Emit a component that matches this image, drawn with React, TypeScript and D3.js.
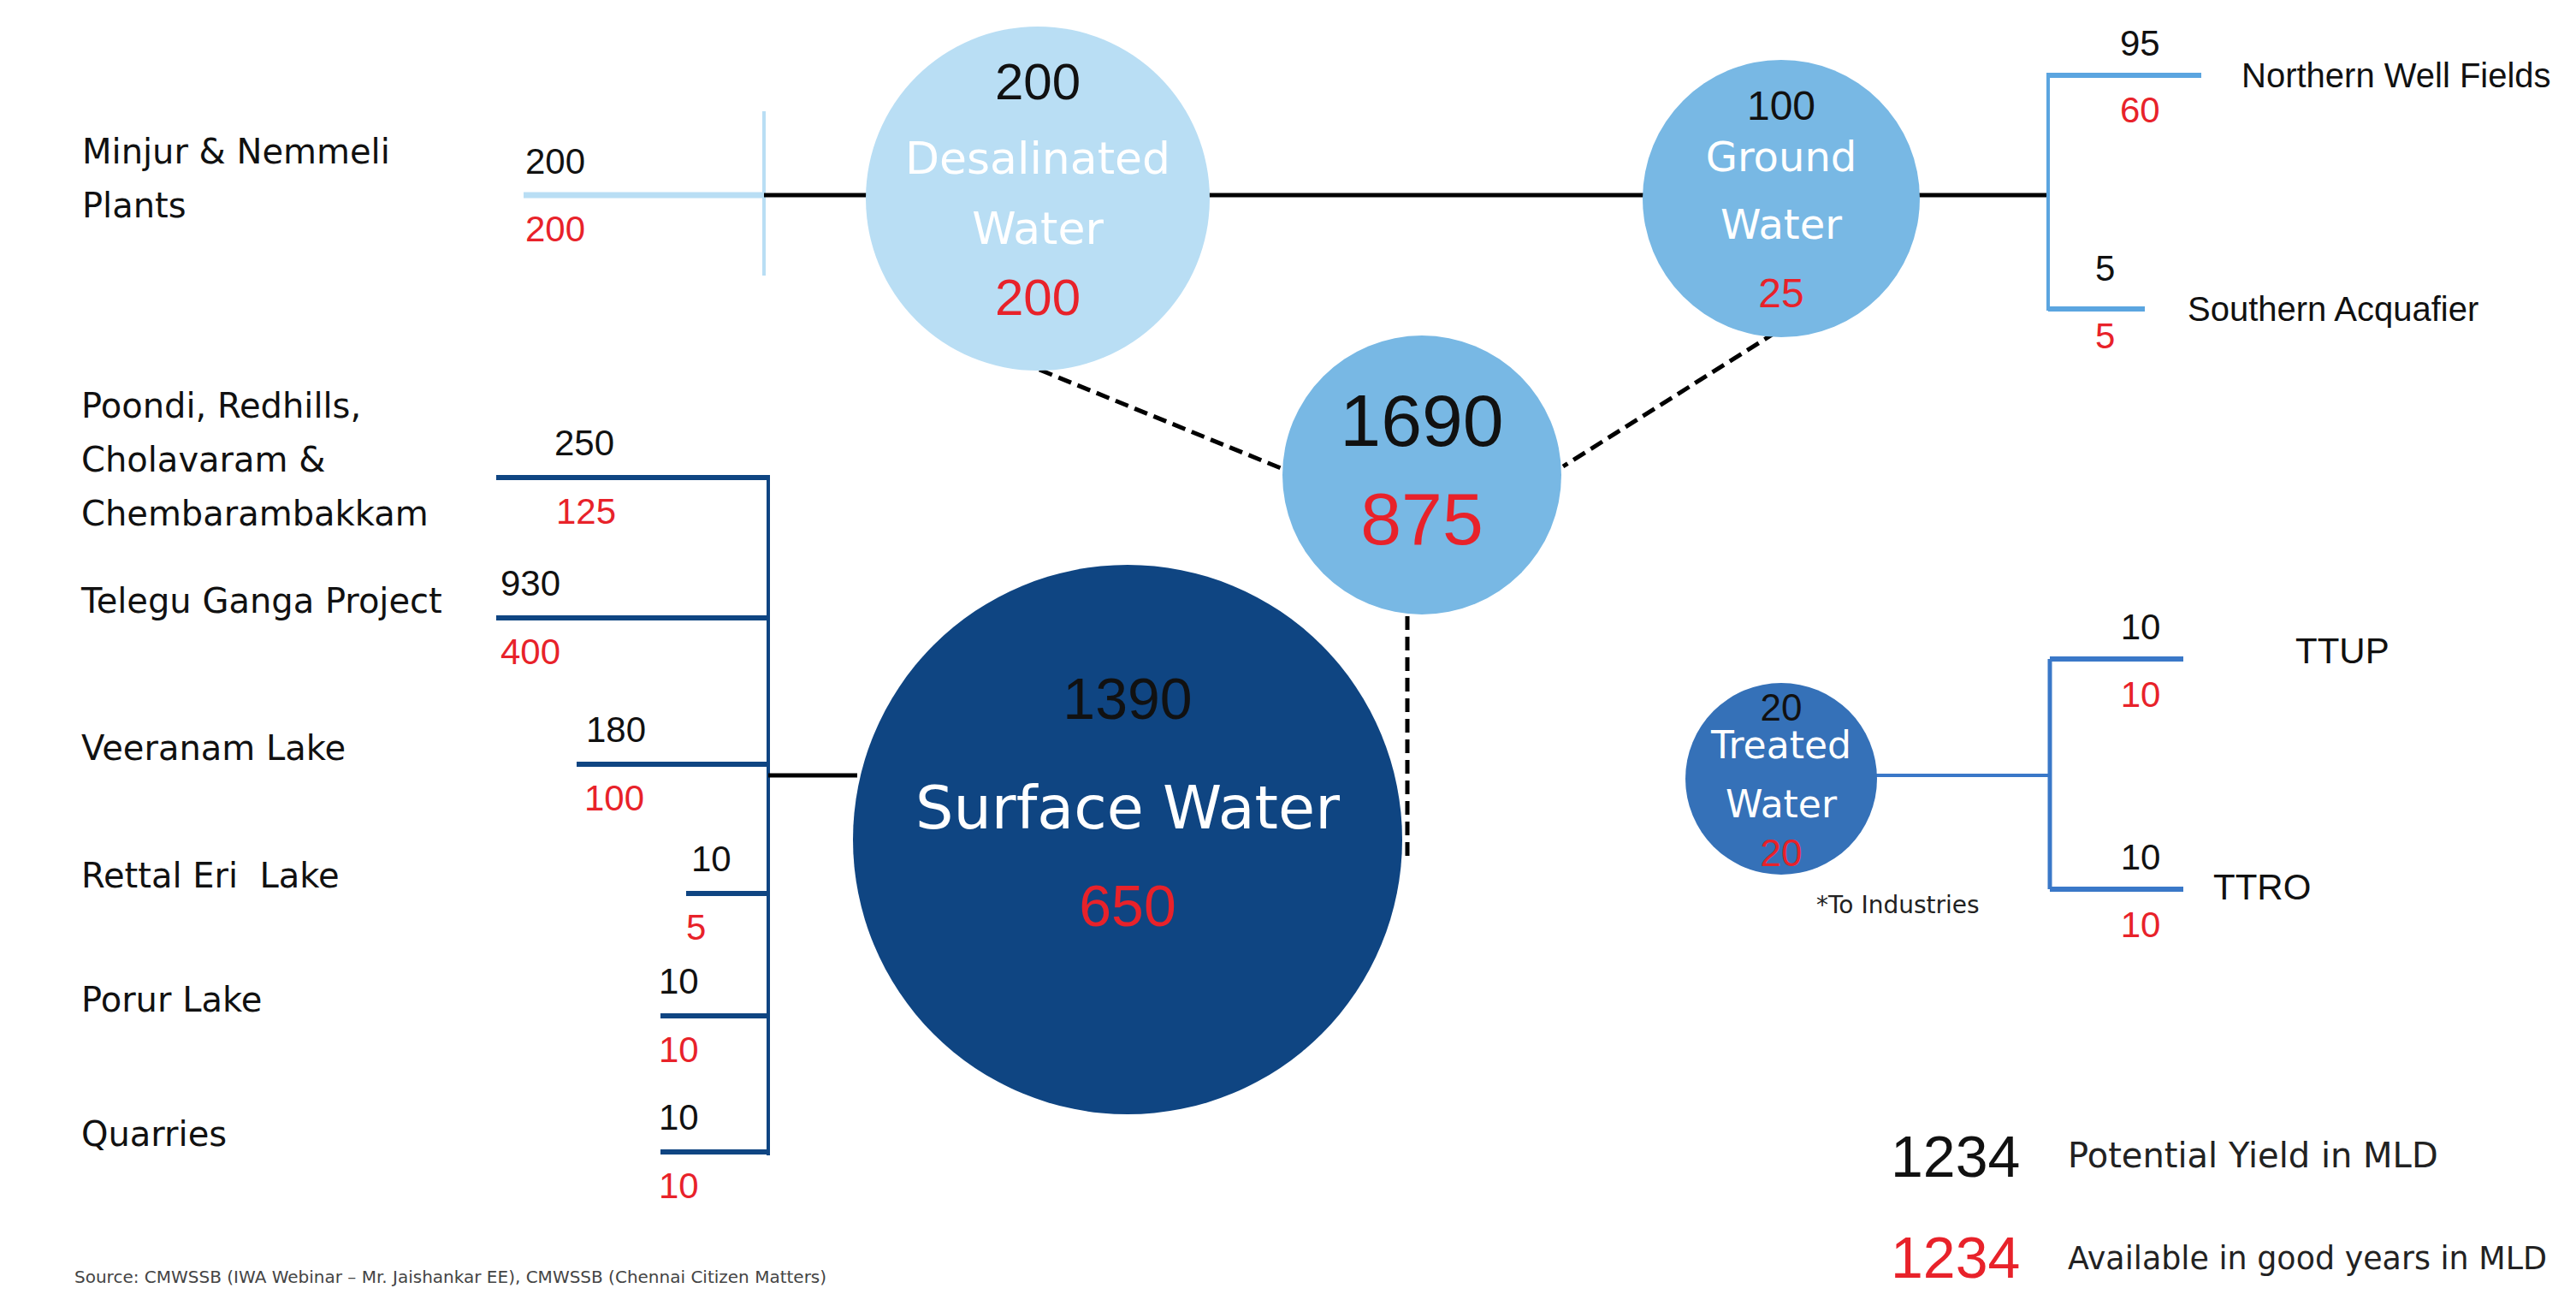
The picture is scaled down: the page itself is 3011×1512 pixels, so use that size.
import React from 'react';
import * as d3 from 'd3';

// hub circles
const hubNames = ['Desalinated\nWater', 'Ground\nWater', 'Surface Water', 'Treated\nWater'];
const hubPotential = [200, 100, 1390, 20];
const hubAvailable = [200, 25, 650, 20];

const totalPotential = 1690;
const totalAvailable = 875;

// sources feeding each hub
const desalSources = ['Minjur & Nemmeli\nPlants'];
const desalPotential = [200];
const desalAvailable = [200];

const surfaceSources = [
  'Poondi, Redhills,\nCholavaram &\nChembarambakkam',
  'Telegu Ganga Project',
  'Veeranam Lake',
  'Rettal Eri  Lake',
  'Porur Lake',
  'Quarries',
];
const surfacePotential = [250, 930, 180, 10, 10, 10];
const surfaceAvailable = [125, 400, 100, 5, 10, 10];

const groundSources = ['Northern Well Fields', 'Southern Acquafier'];
const groundPotential = [95, 5];
const groundAvailable = [60, 5];

const treatedSources = ['TTUP', 'TTRO'];
const treatedPotential = [10, 10];
const treatedAvailable = [10, 10];

const legendSample = '1234';
const legendLabels = ['Potential Yield in MLD', 'Available in good years in MLD'];

const sourceNote = 'Source: CMWSSB (IWA Webinar \u2013 Mr. Jaishankar EE), CMWSSB (Chennai Citizen Matters)';

// layout
const W = 3011;
const H = 1512;
const RED = '#E8222A';
const BLACK = '#111';
const LABEL_FONT = "'DejaVu Sans', sans-serif";
const NUM_FONT = "'Liberation Sans', Arial, sans-serif";

const hubLayout = [
  { cx: 1213, cy: 232, r: 201, fill: '#B9DEF4', pot: -137, names: [-47, 35], avail: 115, numSize: 60, nameSize: 52 },
  { cx: 2082, cy: 232, r: 162, fill: '#78B8E4', pot: -109, names: [-49, 30], avail: 110, numSize: 48, nameSize: 48 },
  { cx: 1318, cy: 981, r: 321, fill: '#0F4582', pot: -165, names: [-37], avail: 77, numSize: 68, nameSize: 70 },
  { cx: 2082, cy: 910, r: 112, fill: '#3571B8', pot: -84, names: [-40, 29], avail: 86, numSize: 44, nameSize: 44 },
];
const totalLayout = { cx: 1662, cy: 555, r: 163, fill: '#78B8E4', pot: -64, avail: 51, size: 86 };

const surfaceRows = {
  y: [558, 722, 893, 1044, 1187, 1346],
  x0: [580, 580, 674, 802, 772, 772],
  numX: [648, 585, 685, 808, 770, 770],
  redX: [650, 585, 683, 802, 770, 770],
  labelY: [474, 702, 874, 1023, 1168, 1325],
};

const line = d3.line<[number, number]>();

const App: React.FC = () => {
  const t = (x: number, y: number, s: string, size: number, fill: string, font = NUM_FONT, anchor = 'start', key?: string, len?: number) => (
    <text key={key} x={x} y={y} fontSize={size} fill={fill} fontFamily={font} textAnchor={anchor}
      dominantBaseline="central" style={{ whiteSpace: 'pre' }}
      {...(len ? { textLength: len, lengthAdjust: 'spacingAndGlyphs' } : {})}>{s}</text>
  );

  const multi = (x: number, y0: number, dy: number, s: string, size: number, key: string) =>
    s.split('\n').map((ln, i) => t(x, y0 + i * dy, ln, size, BLACK, LABEL_FONT, 'start', `${key}-${i}`));

  const ground = hubLayout[1];
  const surface = hubLayout[2];
  const treated = hubLayout[3];

  const sBracketX = 898;
  const gBracketX = 2394;
  const tBracketX = 2396;

  return (
    <svg width={W} height={H} style={{ position: 'absolute', left: 0, top: 0, background: '#fff' }}>
      {/* desalinated feed */}
      <path d={line([[612, 228], [893, 228]])!} stroke="#B9DEF4" strokeWidth={7} fill="none" />
      <path d={line([[893, 130], [893, 322]])!} stroke="#B9DEF4" strokeWidth={4} fill="none" />
      <path d={line([[893, 228], [gBracketX, 228]])!} stroke="#000" strokeWidth={5} fill="none" />
      {desalSources.map((s, i) => (
        <g key={`d${i}`}>
          {multi(96, 177, 63, s, 40, `dl${i}`)}
          {t(614, 188, String(desalPotential[i]), 42, BLACK)}
          {t(614, 267, String(desalAvailable[i]), 42, RED)}
        </g>
      ))}

      {/* ground water bracket */}
      <path d={line([[gBracketX, 85], [gBracketX, 363]])!} stroke="#5BA5E0" strokeWidth={4} fill="none" />
      {groundSources.map((s, i) => {
        const y = [88, 361][i];
        const x1 = [2573, 2507][i];
        const numX = [2478, 2449][i];
        const ny = [[50, 128], [313, 392]][i];
        const lx = [2620, 2557][i];
        return (
          <g key={`g${i}`}>
            <path d={line([[gBracketX, y], [x1, y]])!} stroke="#5BA5E0" strokeWidth={6} fill="none" />
            {t(numX, ny[0], String(groundPotential[i]), 42, BLACK)}
            {t(numX, ny[1], String(groundAvailable[i]), 42, RED)}
            {t(lx, y, s, 40, BLACK)}
          </g>
        );
      })}

      {/* surface water bracket */}
      <path d={line([[sBracketX, 555], [sBracketX, 1350]])!} stroke="#0F4582" strokeWidth={4} fill="none" />
      <path d={line([[sBracketX, 906], [surface.cx - surface.r + 5, 906]])!} stroke="#000" strokeWidth={5} fill="none" />
      {surfaceSources.map((s, i) => {
        const y = surfaceRows.y[i];
        return (
          <g key={`s${i}`}>
            <path d={line([[surfaceRows.x0[i], y], [sBracketX, y]])!} stroke="#0F4582" strokeWidth={6} fill="none" />
            {t(surfaceRows.numX[i], y - 41, String(surfacePotential[i]), 42, BLACK)}
            {t(surfaceRows.redX[i], y + 39, String(surfaceAvailable[i]), 42, RED)}
            {multi(95, surfaceRows.labelY[i], 63, s, 40, `sl${i}`)}
          </g>
        );
      })}

      {/* treated water bracket */}
      <path d={line([[treated.cx + treated.r - 2, 906], [tBracketX, 906]])!} stroke="#3A78C8" strokeWidth={4} fill="none" />
      <path d={line([[tBracketX, 770], [tBracketX, 1039]])!} stroke="#3A78C8" strokeWidth={5} fill="none" />
      {treatedSources.map((s, i) => {
        const y = [770, 1039][i];
        const lx = [2683, 2587][i];
        return (
          <g key={`t${i}`}>
            <path d={line([[tBracketX, y], [2552, y]])!} stroke="#3A78C8" strokeWidth={6} fill="none" />
            {t(2502, y - 38, String(treatedPotential[i]), 42, BLACK, NUM_FONT, 'middle')}
            {t(2502, y + 41, String(treatedAvailable[i]), 42, RED, NUM_FONT, 'middle')}
            {t(lx, y - 10 + i * 7, s, 42, BLACK)}
          </g>
        );
      })}
      {t(2123, 1057, '*To Industries', 28, '#222', LABEL_FONT)}

      {/* dashed connectors to total */}
      {[
        [[1215, 432], [1497, 547]],
        [[2076, 388], [ground.cx - 255, 545]],
        [[1645, 720], [1645, 1008]],
      ].map((pts, i) => (
        <path key={`dash${i}`} d={line(pts as [number, number][])!} stroke="#000" strokeWidth={5} strokeDasharray="16 8" fill="none" />
      ))}

      {/* hubs */}
      {hubLayout.map((h, i) => (
        <g key={`h${i}`}>
          <circle cx={h.cx} cy={h.cy} r={h.r} fill={h.fill} />
          {t(h.cx, h.cy + h.pot, String(hubPotential[i]), h.numSize, BLACK, NUM_FONT, 'middle')}
          {hubNames[i].split('\n').map((ln, j) =>
            t(h.cx, h.cy + h.names[j], ln, h.nameSize, '#fff', LABEL_FONT, 'middle', `hn${i}${j}`))}
          {t(h.cx, h.cy + h.avail, String(hubAvailable[i]), h.numSize, RED, NUM_FONT, 'middle')}
        </g>
      ))}
      <circle cx={totalLayout.cx} cy={totalLayout.cy} r={totalLayout.r} fill={totalLayout.fill} />
      {t(totalLayout.cx, totalLayout.cy + totalLayout.pot, String(totalPotential), totalLayout.size, BLACK, NUM_FONT, 'middle')}
      {t(totalLayout.cx, totalLayout.cy + totalLayout.avail, String(totalAvailable), totalLayout.size, RED, NUM_FONT, 'middle')}

      {/* legend */}
      {legendLabels.map((s, i) => (
        <g key={`lg${i}`}>
          {t(2210, 1351 + i * 118, legendSample, 68, i === 0 ? BLACK : RED)}
          {t(2417, 1350 + i * 120, s, i === 1 ? 37 : 40, '#222', LABEL_FONT, 'start', undefined, i === 1 ? 560 : undefined)}
        </g>
      ))}

      {t(87, 1492, sourceNote, 20, '#444', LABEL_FONT)}
    </svg>
  );
};

export default App;
